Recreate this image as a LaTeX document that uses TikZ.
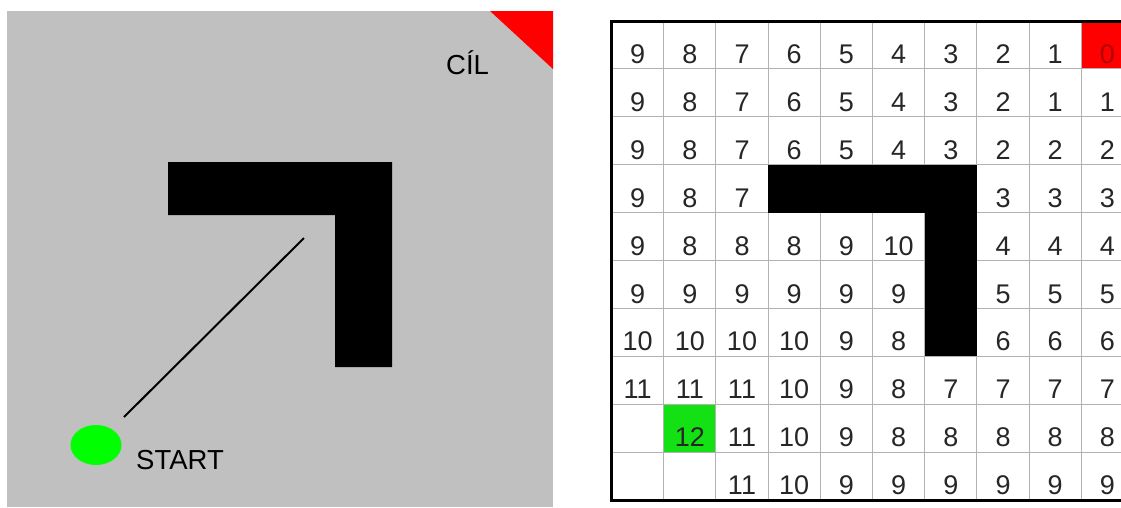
\documentclass[tikz,border=0pt]{standalone}
\usepackage{fontspec}
\setmainfont{Liberation Sans}
\begin{document}
\begin{tikzpicture}[x=1pt,y=-1pt,
  label text/.style={font=\fontsize{27.5}{28}\selectfont, inner sep=0pt, text=black},
  digit/.style={font=\fontsize{27}{28}\selectfont, inner sep=0pt, anchor=base, text=black!85},
  gridline/.style={draw=black!30, line width=1pt},
  frame/.style={draw=black, line width=3pt}]
\definecolor{panelgray}{RGB}{192,192,192}
\definecolor{goalred}{RGB}{255,0,0}
\definecolor{startgreen}{RGB}{0,255,0}
\definecolor{cellgreen}{RGB}{20,225,20}
\definecolor{zerored}{RGB}{175,0,0}
\useasboundingbox (0,0) rectangle (1121,507);
% ---------------- left panel ----------------
\fill[panelgray] (7,11) rectangle (553,507);
\fill[goalred] (490,11) -- (553,11) -- (553,69) -- cycle;
\fill[black] (168,162) -- (392,162) -- (392,367) -- (335,367) -- (335,215) -- (168,215) -- cycle;
\fill[startgreen] (96,445) ellipse [x radius=25.5, y radius=20];
\coordinate (pathstart) at (124,417);
\coordinate (pathend) at (304,238);
\draw[line width=2pt] (pathstart) -- (pathend);
\node[label text, anchor=base west] (startlbl) at (136,469) {START};
\node[label text, anchor=base west] (cil) at (446,74) {CÍL};
% ---------------- right panel ----------------
\begin{scope}
\clip (600,0) rectangle (1121,507);
\fill[white] (611.5,21) rectangle (1140,500);
\fill[goalred] (1081.3,21) rectangle (1133.5,68.9);
\fill[cellgreen] (663.7,404.2) rectangle (715.9,452.1);
\foreach \i in {1,...,9} \draw[gridline] ({611.5+52.2*\i},21) -- ++(0,479);
\foreach \j in {1,...,9} \draw[gridline] (611.5,{21+47.9*\j}) -- (1140,{21+47.9*\j});
\fill[black] (768.1,164.7) rectangle (976.9,212.6);
\fill[black] (924.7,164.7) rectangle (976.9,356.3);
\foreach \row/\st [count=\r from 0] in {
  {9,8,7,6,5,4,3,2,1}/0,
  {9,8,7,6,5,4,3,2,1,1}/0,
  {9,8,7,6,5,4,3,2,2,2}/0,
  {9,8,7}/0,
  {9,8,8,8,9,10}/0,
  {9,9,9,9,9,9}/0,
  {10,10,10,10,9,8}/0,
  {11,11,11,10,9,8,7,7,7,7}/0,
  {12,11,10,9,8,8,8,8,8}/1,
  {11,10,9,9,9,9,9,9}/2}
{
  \foreach \v [count=\c from \st] in \row {
    \node[digit] (n-\r-\c) at ({611.5+52.2*(\c+0.5)},{21+47.9*\r+42.5}) {\v};
  }
}
\foreach \v [count=\c from 7] in {3,3,3} \node[digit] (n-3-\c) at ({611.5+52.2*(\c+0.5)},{21+47.9*3+42.5}) {\v};
\foreach \v [count=\c from 7] in {4,4,4} \node[digit] (n-4-\c) at ({611.5+52.2*(\c+0.5)},{21+47.9*4+42.5}) {\v};
\foreach \v [count=\c from 7] in {5,5,5} \node[digit] (n-5-\c) at ({611.5+52.2*(\c+0.5)},{21+47.9*5+42.5}) {\v};
\foreach \v [count=\c from 7] in {6,6,6} \node[digit] (n-6-\c) at ({611.5+52.2*(\c+0.5)},{21+47.9*6+42.5}) {\v};
\node[digit, text=zerored] (n-0-9) at ({611.5+52.2*9.5},{21+42.5}) {0};
\draw[frame] (1140,21) -- (611.5,21) -- (611.5,500) -- (1140,500);
\end{scope}
\end{tikzpicture}
\end{document}
